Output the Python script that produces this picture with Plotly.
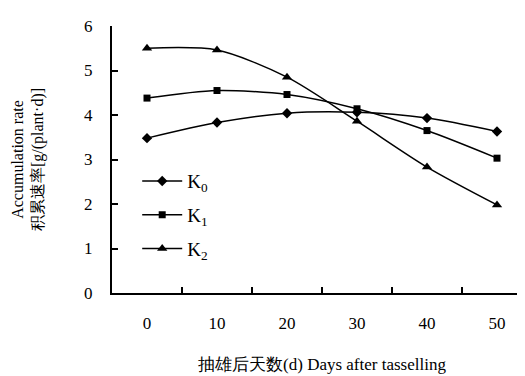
import plotly.graph_objects as go

days = [0, 10, 20, 30, 40, 50]
k0 = [3.48, 3.83, 4.04, 4.06, 3.93, 3.63]
k1 = [4.38, 4.55, 4.46, 4.14, 3.65, 3.03]
k2 = [5.50, 5.46, 4.85, 3.86, 2.83, 1.98]
series = [("K<sub>0</sub>", k0, "diamond", 8), ("K<sub>1</sub>", k1, "square", 7), ("K<sub>2</sub>", k2, "triangle-up", 9)]

serif = "Liberation Serif"
fig = go.Figure()
for i, (name, vals, sym, sz) in enumerate(series):
    fig.add_trace(go.Scatter(
        x=days, y=vals, name=name, mode="lines+markers", legendgroup=f"g{i}",
        line=dict(color="black", width=1.5, shape="spline", smoothing=0.8),
        marker=dict(symbol=sym, size=sz, color="black"),
    ))

fig.update_layout(
    width=525, height=376,
    margin=dict(l=104, r=1, t=18, b=91),
    paper_bgcolor="white", plot_bgcolor="white",
    showlegend=True,
    legend=dict(x=0.06, y=0.49, xanchor="left", yanchor="top",
                font=dict(family=serif, size=19, color="black"),
                bgcolor="rgba(0,0,0,0)", tracegroupgap=6, itemwidth=40),
    font=dict(family=serif, color="black"),
)
fig.update_xaxes(
    range=[-5, 55], tickvals=days, ticktext=[str(d) for d in days],
    ticks="", showline=True, linecolor="black", linewidth=2,
    showgrid=False, zeroline=False,
    tickfont=dict(family=serif, size=17, color="black"),
    ticklabelstandoff=14,
    minor=dict(tickvals=[5, 15, 25, 35, 45], ticks="inside", ticklen=6,
               tickcolor="black", tickwidth=2, showgrid=False),
    title=dict(text="抽雄后天数(d) Days after tasselling",
               font=dict(family=serif, size=17, color="black"),
               standoff=26),
)
fig.update_yaxes(
    range=[0, 6], tickvals=[0, 1, 2, 3, 4, 5, 6],
    ticks="inside", ticklen=6, tickwidth=2, tickcolor="black",
    showline=True, linecolor="black", linewidth=2,
    showgrid=False, zeroline=False,
    tickfont=dict(family=serif, size=17, color="black"),
    ticklabelstandoff=14,
    title=dict(text="Accumulation rate<br>积累速率[g/(plant·d)]",
               font=dict(family=serif, size=16, color="black"),
               standoff=36),
)
fig.write_html("out.html")
